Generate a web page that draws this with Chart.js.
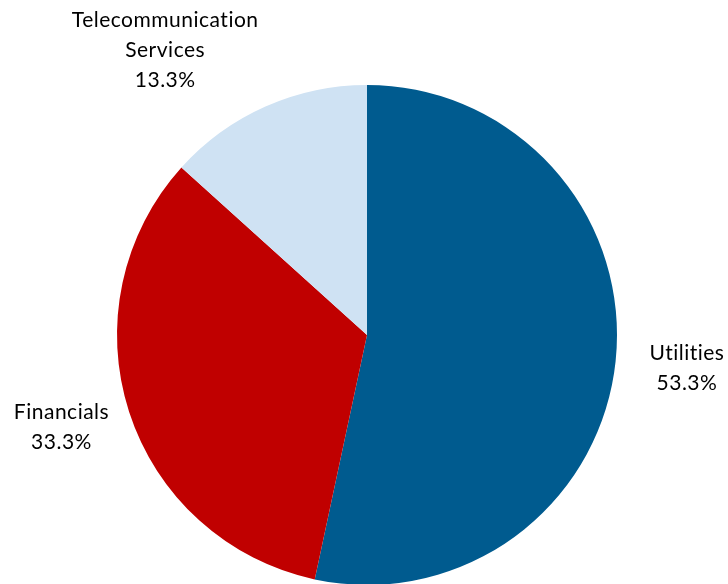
<!DOCTYPE html>
<html>
<head>
<meta charset="utf-8">
<script src="https://cdn.jsdelivr.net/npm/chart.js@4.4.1/dist/chart.umd.min.js"></script>
<style>
  html, body { margin: 0; padding: 0; background: #fff; overflow: hidden; }
  #wrap { width: 728px; height: 584px; overflow: hidden; }
  canvas { display: block; }
</style>
</head>
<body>
<div id="wrap"><canvas id="pie" width="728" height="600"></canvas></div>
<script>
'use strict';

/* ── Data ── */
const sectors = ['Utilities', 'Financials', 'Telecommunication Services'];
const labelLines = [['Utilities'], ['Financials'], ['Telecommunication', 'Services']];
const shares = [53.3, 33.3, 13.3];
const colors = ['#005B8F', '#C00000', '#CFE2F3'];
const labelGap = [34, 21, 17]; // distance of each label box from the rim

/* ── Outside labels drawn from arc geometry ── */
const FONT_SIZE = 21;
const LINE_H = 30;
const clamp = (v) => Math.max(-1, Math.min(1, v));

const outsideLabels = {
  id: 'outsideLabels',
  afterDraw(chart) {
    const ctx = chart.ctx;
    const meta = chart.getDatasetMeta(0);
    ctx.save();
    ctx.font = `${FONT_SIZE}px Lato, 'Open Sans', sans-serif`;
    if ('letterSpacing' in ctx) ctx.letterSpacing = '0.5px'; // also breaks the "ti" ligature
    ctx.fillStyle = '#000';
    ctx.textAlign = 'center';
    ctx.textBaseline = 'middle';
    meta.data.forEach((arc, i) => {
      const { x, y, startAngle, endAngle, outerRadius } = arc.getProps(['x', 'y', 'startAngle', 'endAngle', 'outerRadius'], true);
      const mid = (startAngle + endAngle) / 2;
      const cos = Math.cos(mid), sin = Math.sin(mid);
      const ax = x + cos * (outerRadius + labelGap[i]);
      const ay = y + sin * (outerRadius + labelGap[i]);
      const lines = [...labelLines[i], shares[i].toFixed(1) + '%'];
      const w = Math.max(...lines.map(l => ctx.measureText(l).width));
      const h = lines.length * LINE_H;
      const cx = ax + clamp(cos * 3) * w / 2;
      const cy = ay + sin * h / 2;
      lines.forEach((l, k) => {
        ctx.fillText(l, cx, cy - h / 2 + LINE_H * (k + 0.5));
      });
    });
    ctx.restore();
  }
};

new Chart(document.getElementById('pie'), {
  type: 'pie',
  data: {
    labels: sectors,
    datasets: [{
      data: shares,
      backgroundColor: colors,
      borderWidth: 0,
    }],
  },
  options: {
    responsive: false,
    animation: false,
    layout: { padding: { top: 85, bottom: 15, left: 117, right: 111 } },
    plugins: {
      legend: { display: false },
      tooltip: { enabled: false },
    },
  },
  plugins: [outsideLabels],
});
</script>
</body>
</html>
